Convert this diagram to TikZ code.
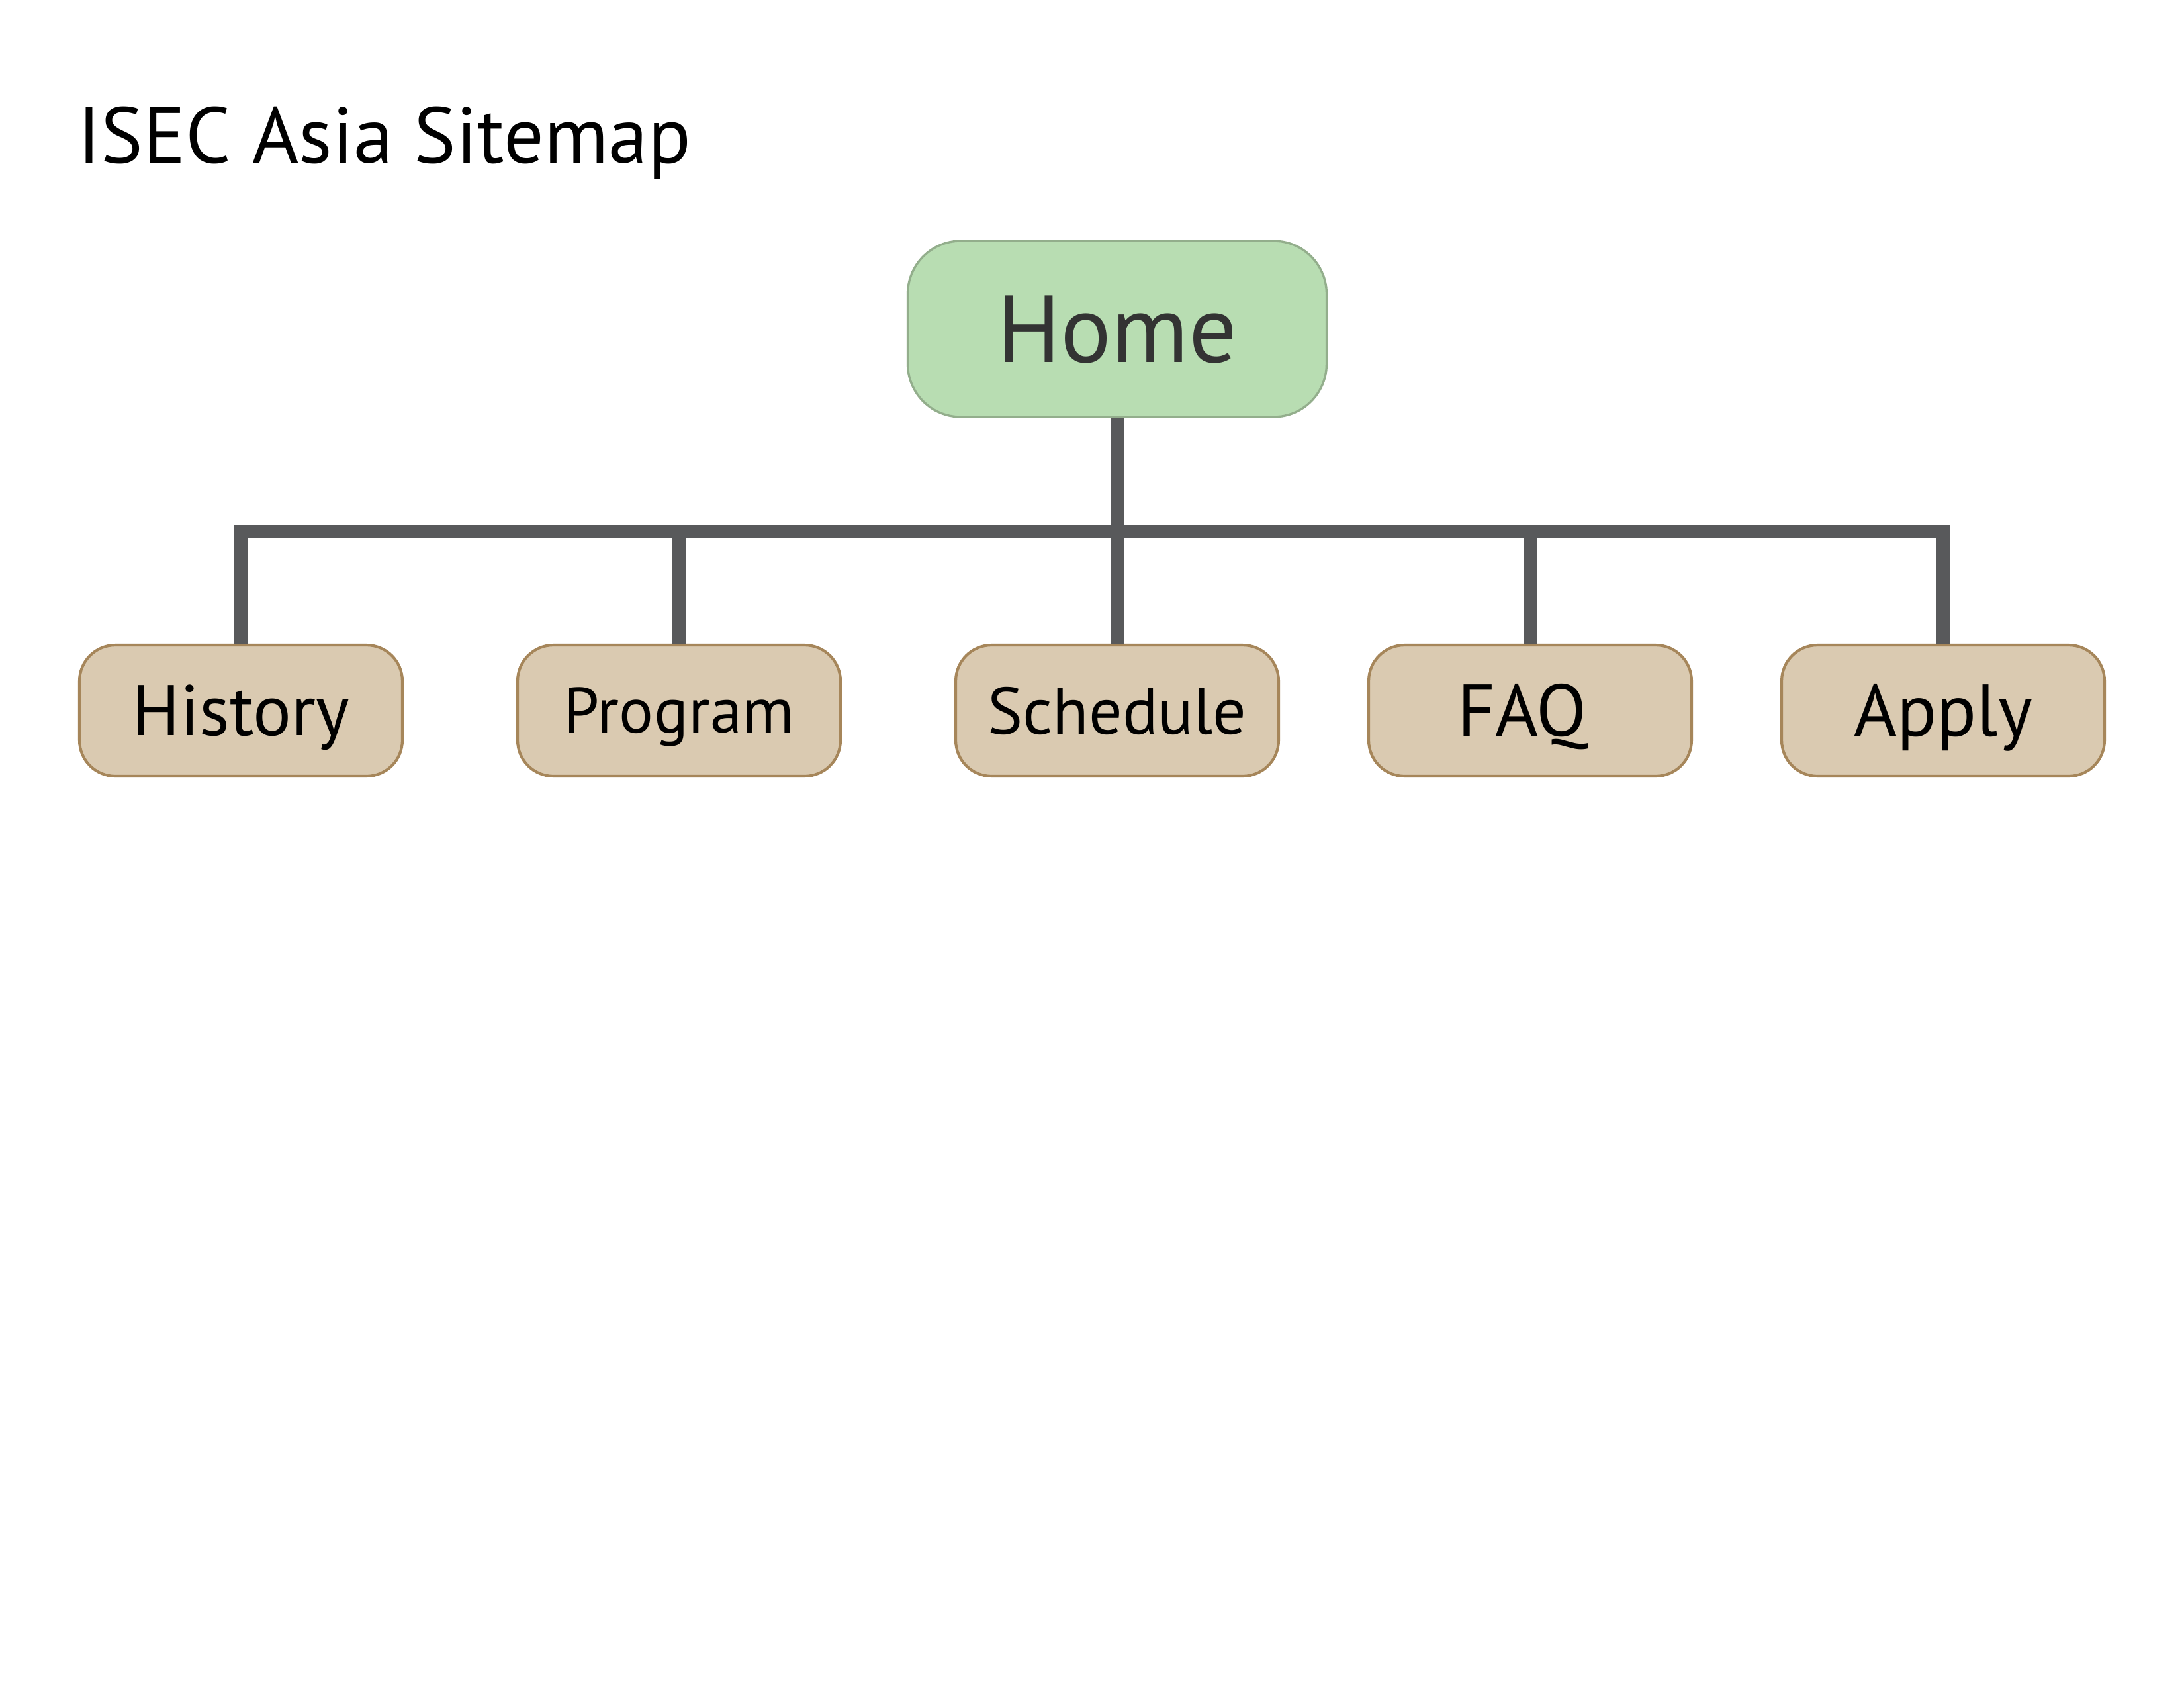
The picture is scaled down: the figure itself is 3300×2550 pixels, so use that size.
\documentclass[tikz,border=0pt]{standalone}
\usepackage{fontspec}
\setmainfont{PT Sans}
\definecolor{homefill}{HTML}{B8DDB2}
\definecolor{homedraw}{HTML}{93AE8C}
\definecolor{childfill}{HTML}{DACAB1}
\definecolor{childdraw}{HTML}{A6865A}
\definecolor{linkcol}{HTML}{58595B}
\definecolor{hometext}{HTML}{333333}
\tikzset{
  homebox/.style={rectangle, rounded corners=19.2pt, minimum width=151.9pt, minimum height=63.8pt,
    inner sep=0pt, fill=homefill, draw=homedraw, line width=0.8pt, text=hometext,
    font=\fontsize{34.5pt}{36pt}\selectfont, text height=24.1pt, text depth=0pt},
  childbox/.style={rectangle, rounded corners=13pt, minimum width=117.1pt, minimum height=47.5pt,
    inner sep=0pt, fill=childfill, draw=childdraw, line width=1pt, text=black, text depth=0pt},
  boxlabel/.style={inner sep=0pt, text=black, text depth=0pt},
  link/.style={draw=linkcol, line width=4.8pt, line join=miter, line cap=butt},
  titletext/.style={anchor=base west, inner sep=0pt, font=\fontsize{28.8pt}{32pt}\selectfont}
}
\begin{document}
\begin{tikzpicture}[x=0.24pt, y=-0.24pt]
\useasboundingbox[fill=white] (0,0) rectangle (3300,2550);
\node[titletext] (title) at (117,246) {ISEC Asia Sitemap};
\node[homebox] (home) at (1688,497) {Home};
\node[childbox, font=\fontsize{26pt}{30pt}\selectfont, text height=18.2pt] (history) at (364,1074) {History};
\node[childbox, font=\fontsize{23.3pt}{28pt}\selectfont, text height=16.3pt] (program) at (1026,1074) {Program};
\node[childbox, font=\fontsize{24pt}{28pt}\selectfont, text height=16.8pt] (schedule) at (1688,1074) {Schedule};
\node[childbox] (faq) at (2312,1074) {};
\node[boxlabel, font=\fontsize{26.7pt}{30pt}\selectfont, text height=18.7pt] (faqlabel) at (2300,1074) {FAQ};
\node[childbox, font=\fontsize{26.7pt}{30pt}\selectfont, text height=18.7pt] (apply) at (2936,1074) {Apply};
\coordinate (bar) at (1688,803);
\draw[link] (history.north) -- (history.north |- bar) -- (apply.north |- bar) -- (apply.north);
\draw[link] (home.south) -- (schedule.north);
\draw[link] (program.north) -- (program.north |- bar);
\draw[link] (faq.north) -- (faq.north |- bar);
\end{tikzpicture}
\end{document}
